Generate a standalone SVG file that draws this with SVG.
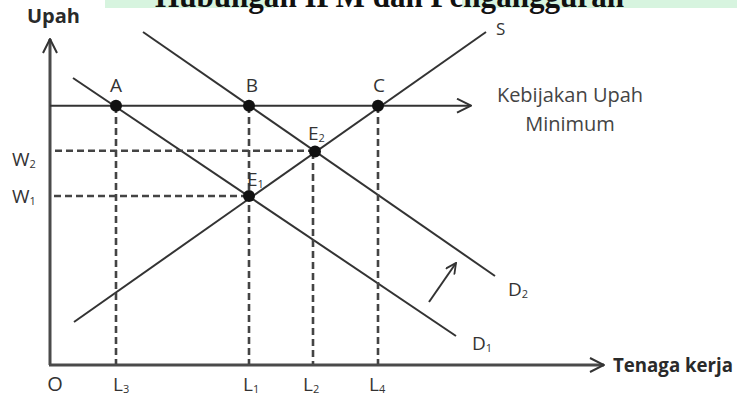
<svg xmlns="http://www.w3.org/2000/svg" width="737" height="394" viewBox="0 0 737 394">
<style>
.t{font-family:"Open Sans","Liberation Sans",sans-serif;fill:#333;font-size:19px}
.b{font-weight:bold;fill:#2a2a2a;font-size:20px}
.k{fill:#444;font-size:20px}
.sub{font-size:11px}
.ln{stroke:#333;stroke-width:2;fill:none}
.ax{stroke:#4a4a4a;stroke-width:3;fill:none}
.ds{stroke:#444;stroke-width:2.6;stroke-dasharray:7 4;fill:none}
.dot{fill:#111}
</style>
<defs>
<marker id="arr" viewBox="0 0 16 16" refX="15" refY="8" markerWidth="16" markerHeight="16" markerUnits="userSpaceOnUse" orient="auto">
<path d="M1,1 L15,8 L1,15" fill="none" stroke="#333" stroke-width="2"/>
</marker>
<marker id="arrs" viewBox="0 0 16 16" refX="15" refY="8" markerWidth="12" markerHeight="12" markerUnits="userSpaceOnUse" orient="auto">
<path d="M1,1 L15,8 L1,15" fill="none" stroke="#333" stroke-width="2.4"/>
</marker>
</defs>
<rect width="737" height="394" fill="#fff"/>
<g id="title">
<rect x="105" y="0" width="170" height="8" fill="#d7f4df"/>
<rect x="462" y="0" width="275" height="8" fill="#d7f4df"/>
<text x="155" y="7" textLength="469" lengthAdjust="spacingAndGlyphs" style="font-family:'Liberation Serif',serif;font-weight:bold;font-size:33px;fill:#111">Hubungan IPM dan Pengangguran</text>
</g>
<g id="connectors">
<line class="ax" x1="50" y1="365" x2="50" y2="39" marker-end="url(#arr)"/>
<line class="ax" x1="49" y1="365" x2="604" y2="365" marker-end="url(#arr)"/>
<line class="ln" x1="50" y1="105.7" x2="471" y2="105.7" stroke-width="2.4" marker-end="url(#arr)"/>
<line class="ln" x1="74" y1="322" x2="486" y2="32"/>
<line class="ln" x1="73" y1="78" x2="456" y2="336"/>
<line class="ln" x1="143" y1="32" x2="495" y2="276"/>
<line class="ln" x1="429" y1="302" x2="456" y2="263" marker-end="url(#arrs)"/>
<line class="ds" x1="55" y1="150.7" x2="315" y2="150.7"/>
<line class="ds" x1="54" y1="196" x2="249" y2="196"/>
<line class="ds" x1="116" y1="106" x2="116" y2="364"/>
<line class="ds" x1="249" y1="106" x2="249" y2="364"/>
<line class="ds" x1="313" y1="152" x2="313" y2="364"/>
<line class="ds" x1="378" y1="106" x2="378" y2="364"/>
</g>
<g id="axis-labels">
<text class="t b" x="27" y="23">Upah</text>
<text class="t b" x="613" y="372" textLength="120" lengthAdjust="spacingAndGlyphs">Tenaga kerja</text>
<text class="t k" x="570" y="102" text-anchor="middle">Kebijakan Upah</text>
<text class="t k" x="570" y="131" text-anchor="middle">Minimum</text>
<text class="t" x="55" y="391" text-anchor="middle" style="font-size:20px">O</text>
<text class="t" x="113" y="391">L<tspan class="sub" dy="2">3</tspan></text>
<text class="t" x="243" y="391">L<tspan class="sub" dy="2">1</tspan></text>
<text class="t" x="303" y="391">L<tspan class="sub" dy="2">2</tspan></text>
<text class="t" x="369" y="391">L<tspan class="sub" dy="2">4</tspan></text>
<text class="t" x="12" y="166">W<tspan class="sub" dy="2">2</tspan></text>
<text class="t" x="12" y="203">W<tspan class="sub" dy="2">1</tspan></text>
<text class="t" x="496" y="35" style="font-size:17px">S</text>
<text class="t" x="508" y="296">D<tspan class="sub" dy="2">2</tspan></text>
<text class="t" x="472" y="350">D<tspan class="sub" dy="2">1</tspan></text>
</g>
<g id="A"><circle class="dot" cx="116" cy="105.7" r="6"/><text class="t" x="116" y="92" text-anchor="middle">A</text></g>
<g id="B"><circle class="dot" cx="249" cy="105.7" r="6"/><text class="t" x="252" y="92" text-anchor="middle">B</text></g>
<g id="C"><circle class="dot" cx="378" cy="105.7" r="6"/><text class="t" x="379" y="92" text-anchor="middle">C</text></g>
<g id="E2"><circle class="dot" cx="315" cy="151.5" r="6"/><text class="t" x="308" y="140">E<tspan class="sub" dy="2">2</tspan></text></g>
<g id="E1"><circle class="dot" cx="249" cy="196" r="6"/><text class="t" x="247" y="186">E<tspan class="sub" dy="2">1</tspan></text></g>
</svg>
